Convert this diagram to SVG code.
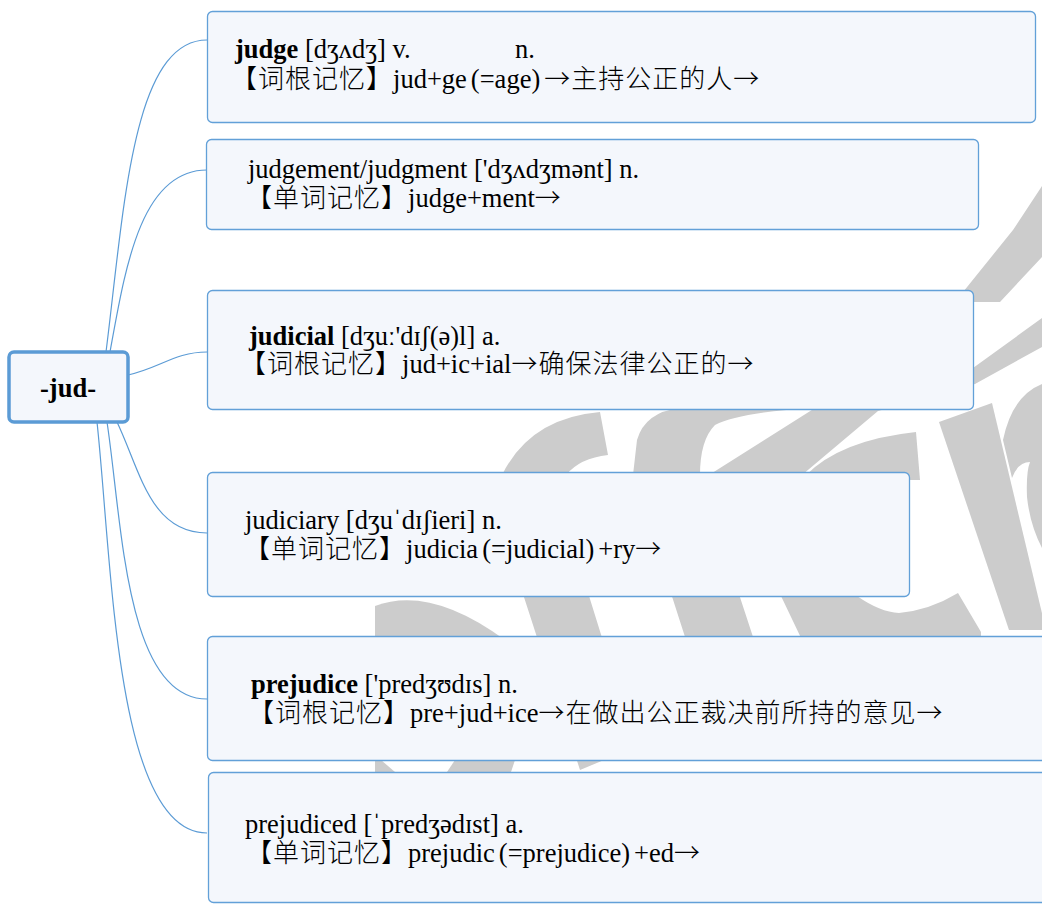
<svg xmlns="http://www.w3.org/2000/svg" width="1042" height="904" viewBox="0 0 1042 904">
<style>
.wm{fill:#cccccc;stroke:none}
.conn{fill:none;stroke:#5b9bd5;stroke-width:1.2}
.box{fill:#f4f7fc;stroke:#62a0d8;stroke-width:1.3}
.root{fill:#f4f7fc;stroke:#5b9bd5;stroke-width:3.5}
text{font-family:'Liberation Serif','Noto Sans CJK SC',serif;font-size:26.5px;fill:#000}
.b{font-weight:bold}
.cj{font-family:'Noto Sans CJK SC',sans-serif;font-size:26px;font-weight:300;letter-spacing:1px}
</style>
<rect width="1042" height="904" fill="#ffffff"/>
<g id="watermark">
<path class="wm" d="M1042,186 L1013,230 L955,302 L1000,302 L1042,257 Z"/>
<path class="wm" d="M1042,318 L973,368 L815,408 L709,475 L802,475 L878,411 L975,384 L1042,347 Z"/>
<path class="wm" d="M686,640 L633,475 L637,440 Q645,412 680,408 L815,408 Q740,412 715,425 Q700,440 700,475 L754,640 Z"/>
<path class="wm" d="M502,475 Q530,418 600,412 L608,455 Q580,458 566,475 Z"/>
<path class="wm" d="M486,480 L553,480 L640,760 L604,760 L580,770 Z"/>
<path class="wm" d="M375,640 L375,606 Q430,585 505,640 Z"/>
<path class="wm" d="M375,760 L381,760 L395,772 L375,772 Z"/>
<path class="wm" d="M455,760 L515,760 L511,772 L447,772 Z"/>
<path class="wm" d="M805,476 Q840,440 916,432 L920,480 L905,480 Z"/>
<path class="wm" d="M781,596 L857,596 Q880,612 899,613 Q930,610 958,593 L981,632 L981,640 L802,640 Z"/>
<path class="wm" d="M939,422 L992,403 L1046,630 L1009,630 Z"/>
<path class="wm" d="M1042,384 Q1012,396 1003,440 L1012,478 Q1018,462 1030,462 Q1026,472 1027,497 Q1030,525 1042,548 Z"/>
</g>
<g id="connectors">
<path class="conn" d="M106,352 C124,210 132,40 207,40"/>
<path class="conn" d="M110,352 C125,270 140,170 207,170"/>
<path class="conn" d="M128,375 C160,368 175,352 207,352"/>
<path class="conn" d="M117,422 C140,470 150,533 207,533"/>
<path class="conn" d="M107,422 C122,520 125,699 207,699"/>
<path class="conn" d="M97,422 C112,560 115,833 207,833"/>
</g>
<g id="root">
<rect class="root" x="9" y="352" width="119" height="70" rx="5"/>
<text x="68" y="397" text-anchor="middle" class="b">-jud-</text>
</g>
<g id="n1">
<rect class="box" x="207.5" y="11.5" width="828" height="111" rx="5"/>
<text x="235" y="58"><tspan class="b">judge</tspan> [dʒʌdʒ] v.<tspan x="515">n.</tspan></text>
<text x="231" y="88"><tspan class="cj">【词根记忆】</tspan>jud+ge<tspan dx="4">(=age)</tspan><tspan class="cj" dx="4">→主持公正的人→</tspan></text>
</g>
<g id="n2">
<rect class="box" x="206.5" y="139.5" width="772" height="90" rx="5"/>
<text x="248" y="178">judgement/judgment ['dʒʌdʒmənt] n.</text>
<text x="246" y="207"><tspan class="cj">【单词记忆】</tspan>judge+ment<tspan class="cj">→</tspan></text>
</g>
<g id="n3">
<rect class="box" x="207.5" y="290.5" width="766" height="119" rx="5"/>
<text x="249" y="345"><tspan class="b">judicial</tspan> [dʒuː'dɪʃ(ə)l] a.</text>
<text x="240" y="373"><tspan class="cj">【词根记忆】</tspan>jud+ic+ial<tspan class="cj">→确保法律公正的→</tspan></text>
</g>
<g id="n4">
<rect class="box" x="207.5" y="472.5" width="702" height="124" rx="5"/>
<text x="245" y="529">judiciary [dʒuˈdɪʃieri] n.</text>
<text x="244" y="558"><tspan class="cj">【单词记忆】</tspan>judicia<tspan dx="4">(=judicial)</tspan><tspan dx="4">+ry</tspan><tspan class="cj">→</tspan></text>
</g>
<g id="n5">
<rect class="box" x="207.5" y="636.5" width="850" height="124" rx="5"/>
<text x="251" y="693"><tspan class="b">prejudice</tspan> ['predʒʊdɪs] n.</text>
<text x="248" y="722"><tspan class="cj">【词根记忆】</tspan>pre+jud+ice<tspan class="cj">→在做出公正裁决前所持的意见→</tspan></text>
</g>
<g id="n6">
<rect class="box" x="208.5" y="772.5" width="850" height="130" rx="5"/>
<text x="245" y="833">prejudiced [ˈpredʒədɪst] a.</text>
<text x="246" y="862"><tspan class="cj">【单词记忆】</tspan>prejudic<tspan dx="4">(=prejudice)</tspan><tspan dx="4">+ed</tspan><tspan class="cj">→</tspan></text>
</g>
</svg>
